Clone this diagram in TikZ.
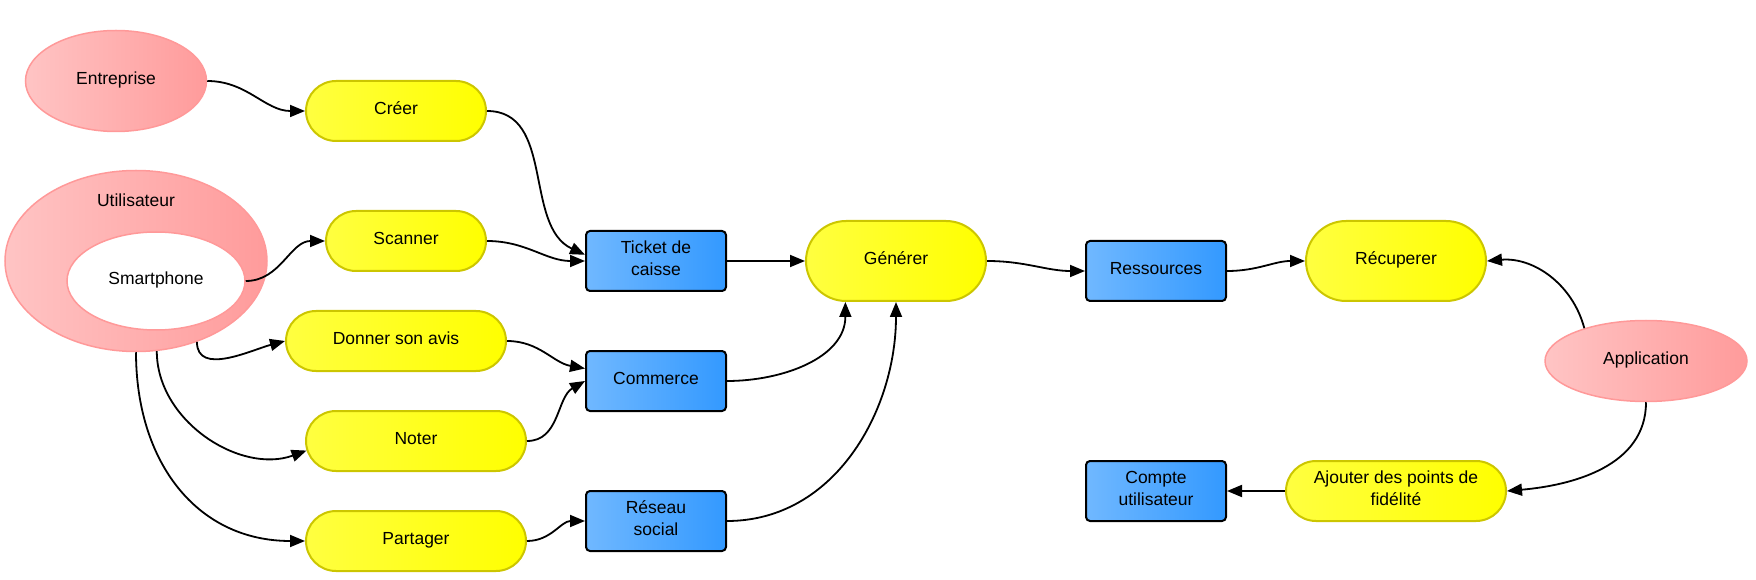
\documentclass[tikz,border=0pt]{standalone}
\usepackage{fontspec}
\setmainfont{Liberation Sans}
\usetikzlibrary{shapes.geometric,shapes.misc,arrows.meta}
\definecolor{pinkL}{HTML}{FFC4C4}
\definecolor{pinkR}{HTML}{FF9B9B}
\definecolor{pinkD}{HTML}{FF9999}
\definecolor{yellowL}{HTML}{FFFF40}
\definecolor{yellowR}{HTML}{FFFF00}
\definecolor{yellowD}{HTML}{CCC600}
\definecolor{blueL}{HTML}{70B8FF}
\definecolor{blueR}{HTML}{3399FF}
\begin{document}
\begin{tikzpicture}[x=1pt,y=1pt,
  every node/.style={font=\fontsize{17.5}{21.5}\selectfont,inner sep=0pt,text height=12.6pt,text depth=5.5pt},
  twolines/.style={text height=34.1pt},
  actor/.style={ellipse,draw=pinkD,line width=1.5pt,left color=pinkL,right color=pinkR},
  device/.style={ellipse,draw=pinkD,line width=1.5pt,fill=white},
  action/.style={rounded rectangle,draw=yellowD,line width=2pt,left color=yellowL,right color=yellowR,
    minimum width=220pt,minimum height=60pt,align=center},
  item/.style={rectangle,rounded corners=4pt,draw=black,line width=2pt,left color=blueL,right color=blueR,
    minimum width=140pt,minimum height=60pt,align=center},
  link/.style={draw,-{Triangle[length=15pt,width=12pt]},line width=1.8pt}]
\def\hTop{318}
\useasboundingbox (0,0) rectangle (1756,579);
% acteurs
\path
(116,498) node [actor,minimum width=181pt,minimum height=101pt] (entr) {Entreprise}
(136,318) node [actor,minimum width=262pt,minimum height=181pt] (util) {}
(156,298) node [device,minimum width=178pt,minimum height=98pt] (phone) {Smartphone}
(136,376) node (utilname) {Utilisateur}
(1646,218) node [actor,minimum width=202pt,minimum height=81pt] (app) {Application}
;
% actions
\path
(396,468) node [action,minimum width=180pt] (creer) {Créer}
(406,338) node [action,minimum width=160pt] (scan) {Scanner}
(396,238) node [action] (avis) {Donner son avis}
(416,138) node [action] (noter) {Noter}
(416,38) node [action] (part) {Partager}
(896,\hTop) node [action,minimum width=180pt,minimum height=80pt] (gen) {Générer}
(1396,\hTop) node [action,minimum width=180pt,minimum height=80pt] (recup) {Récuperer}
(1396,88) node [action,twolines] (ajout) {Ajouter des points de\\fidélité}
;
% objets
\path
(656,\hTop) node [item,twolines] (ticket) {Ticket de\\caisse}
(656,198) node [item] (comm) {Commerce}
(656,58) node [item,twolines] (reseau) {Réseau\\social}
(1156,308) node [item] (ress) {Ressources}
(1156,88) node [item,twolines] (compte) {Compte\\utilisateur}
;

\begin{scope}[every path/.style=link]
\path (entr.east) to[out=0,in=180] (creer.west);
\path (phone.east) to[out=0,in=180] (scan.west);
\path (util.-53) to[out=-90,in=195] (avis.west);
\path (util.-77) to[out=-90,in=200] (noter.185);
\path (util.south) to[out=-90,in=180,looseness=1.1] (part.west);
\path (creer.east) to[out=0,in=155] (ticket.175);
\path (scan.east) to[out=0,in=180] (ticket.west);
\path (avis.east) to[out=0,in=170] (comm.170);
\path (noter.east) to[out=0,in=210] (comm.west);
\path (part.east) to[out=0,in=180] (reseau.west);
\path (ticket.east) -- (gen.west);
\path (comm.east) to[out=0,in=-90] (gen.-141);
\path (reseau.east) to[out=0,in=-90] (gen.south);
\path (gen.east) to[out=0,in=180] (ress.west);
\path (ress.east) to[out=0,in=180] (recup.west);
\path (app.152) to[out=105,in=5] (recup.east);
\path (app.south) to[out=-90,in=5] (ajout.east);
\path (ajout.west) -- (compte.east);
\end{scope}
\end{tikzpicture}
\end{document}
